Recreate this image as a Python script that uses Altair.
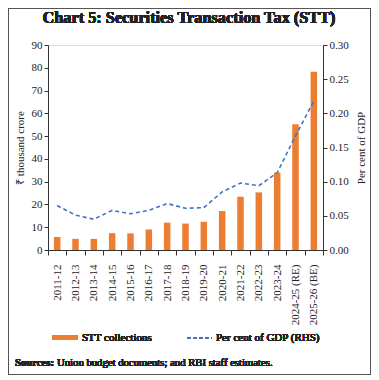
import altair as alt
import pandas as pd

years = ["2011-12", "2012-13", "2013-14", "2014-15", "2015-16", "2016-17",
         "2017-18", "2018-19", "2019-20", "2020-21", "2021-22", "2022-23",
         "2023-24", "2024-25 (RE)", "2025-26 (BE)"]
stt = [5.7, 4.9, 4.9, 7.4, 7.3, 9.0, 12.0, 11.6, 12.4, 17.1, 23.4, 25.3, 34.0, 55.2, 78.3]
gdp_pct = [0.065, 0.051, 0.045, 0.058, 0.053, 0.058, 0.068, 0.061, 0.062, 0.085,
           0.098, 0.094, 0.113, 0.167, 0.218]

left_ticks = [0, 10, 20, 30, 40, 50, 60, 70, 80, 90]
right_ticks = [0.0, 0.05, 0.10, 0.15, 0.20, 0.25, 0.30]

df = pd.DataFrame({"year": years, "stt": stt, "gdp": gdp_pct})

FONT = "Liberation Serif"
ORANGE = "#ED7D31"
BLUE = "#4472C4"
TXT = "#222"

xenc = alt.X("year:N", sort=None, title=None,
             scale=alt.Scale(paddingInner=0, paddingOuter=0),
             axis=alt.Axis(labelAngle=270, labelFont=FONT, labelFontSize=11,
                           labelColor=TXT, tickBand="extent", domainColor="#333",
                           tickColor="#333", tickSize=5, labelPadding=9))

bars = alt.Chart(df).mark_bar(color=ORANGE, size=6.5).encode(
    x=xenc,
    y=alt.Y("stt:Q", title="₹ thousand crore",
            scale=alt.Scale(domain=[0, 90], nice=False),
            axis=alt.Axis(values=left_ticks, grid=False, labelFont=FONT, labelFontSize=11,
                          labelColor=TXT, titleFont=FONT, titleFontSize=11,
                          titleFontWeight="normal", titleColor=TXT,
                          domainColor="#333", tickColor="#333", tickSize=4,
                          titlePadding=6))
)

line = alt.Chart(df).mark_line(color=BLUE, strokeDash=[4, 3], strokeWidth=1.6).encode(
    x=xenc,
    y=alt.Y("gdp:Q", title="Per cent of GDP",
            scale=alt.Scale(domain=[0, 0.30], nice=False),
            axis=alt.Axis(orient="right", values=right_ticks, format=".2f", grid=False,
                          labelFont=FONT, labelFontSize=11, labelColor=TXT,
                          titleFont=FONT, titleFontSize=11, titleFontWeight="normal",
                          titleColor=TXT, titleAngle=270, domainColor="#333",
                          tickColor="#333", tickSize=4, titlePadding=18))
)

# title, legend and footnote (decoration)
title = alt.Chart(df).mark_text(text="Chart 5: Securities Transaction Tax (STT)", font=FONT,
                                fontSize=16.3, fontWeight="bold", align="center",
                                baseline="middle", color=TXT).encode(
    x=alt.value(141), y=alt.value(-27))
leg_bar = alt.Chart(df).mark_rect(color=ORANGE).encode(
    x=alt.value(4), x2=alt.value(30), y=alt.value(290), y2=alt.value(295))
leg_bar_txt = alt.Chart(df).mark_text(text="STT collections", font=FONT, fontSize=11,
                                      align="left", baseline="middle", color=TXT).encode(
    x=alt.value(34), y=alt.value(293))
leg_line = alt.Chart(df).mark_rule(color=BLUE, strokeDash=[4, 2], strokeWidth=1.6).encode(
    x=alt.value(139), x2=alt.value(164), y=alt.value(293))
leg_line_txt = alt.Chart(df).mark_text(text="Per cent of GDP (RHS)", font=FONT, fontSize=11,
                                       align="left", baseline="middle", color=TXT).encode(
    x=alt.value(168), y=alt.value(293))
src_b = alt.Chart(df).mark_text(text="Sources:", font=FONT, fontSize=10.7, fontWeight="bold",
                                align="left", baseline="middle", color=TXT).encode(
    x=alt.value(-33), y=alt.value(318))
src_t = alt.Chart(df).mark_text(text="Union budget documents; and RBI staff estimates.",
                                font=FONT, fontSize=10.7, align="left", baseline="middle",
                                color=TXT).encode(x=alt.value(9), y=alt.value(318))
frame = alt.Chart(df).mark_rect(fill=None, stroke="#555", strokeWidth=1).encode(
    x=alt.value(-39.5), x2=alt.value(322.5), y=alt.value(-36.5), y2=alt.value(329.5))

chart = alt.layer(bars, line, title, leg_bar, leg_bar_txt, leg_line, leg_line_txt,
                  src_b, src_t, frame
                  ).resolve_scale(y="independent").properties(
    width=275, height=205,
    autosize=alt.AutoSizeParams(type="none"),
    padding={"left": 40, "top": 37, "right": 48, "bottom": 125},
).configure_view(stroke=None).configure(background="white")

chart.save("out.html", embed_options={"renderer": "svg", "actions": False})
